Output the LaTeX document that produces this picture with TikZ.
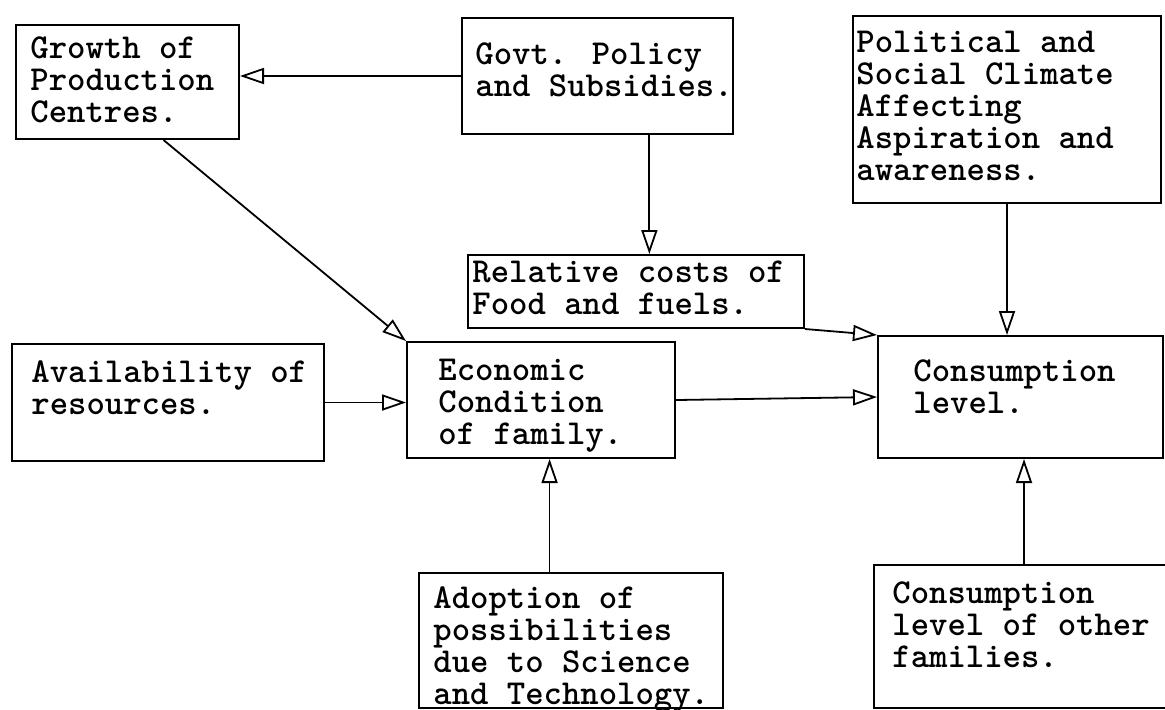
\documentclass[tikz,border=0pt]{standalone}
\usepackage{fontspec}
\usetikzlibrary{arrows.meta,calc}
\newcommand{\typed}{\ttfamily\bfseries\fontsize{17.5pt}{16pt}\selectfont}

\begin{document}
\begin{tikzpicture}[
    x=0.5pt, y=-0.5pt,
    factor/.style={draw, line width=1pt, anchor=north west, inner sep=0pt},
    note/.style={anchor=north west, inner sep=0pt, align=left, font=\typed},
    arr/.style={-{Triangle[open, length=12pt, width=8pt]}, line width=0.9pt}
  ]

  % ---- Page frame ----
  \useasboundingbox (0,0) rectangle (1165,709);

  % ---- Top row of factors ----
  \node[factor, minimum width=111.5pt, minimum height=57pt] (growth) at (15,24) {};
  \node[note] (growthtxt) at (30,36) {Growth of\\Production\\Centres.};

  \node[factor, minimum width=135.5pt, minimum height=58pt] (govt) at (461,17) {};
  \node[note] (govttxt) at (475,42) {Govt. Policy\\and Subsidies.};

  \node[factor, minimum width=154pt, minimum height=93.5pt] (polit) at (852,15) {};
  \node[note] (polittxt) at (856,31) {Political and\\Social Climate\\Affecting\\Aspiration and\\awareness.};

  % ---- Costs box ----
  \node[factor, minimum width=168pt, minimum height=36.5pt] (rel) at (467,254) {};
  \node[note] (reltxt) at (472,260) {Relative costs of\\Food and fuels.};

  % ---- Middle row ----
  \node[factor, minimum width=156pt, minimum height=58.5pt] (avail) at (11,343) {};
  \node[note] (availtxt) at (31,360) {Availability of\\resources.};

  \node[factor, minimum width=134pt, minimum height=58pt] (econ) at (406,341) {};
  \node[note] (econtxt) at (438,359) {Economic\\Condition\\of family.};

  \node[factor, minimum width=142.5pt, minimum height=61pt] (cons) at (877,335) {};
  \node[note] (constxt) at (913,359) {Consumption\\level.};

  % ---- Bottom row ----
  \node[factor, minimum width=152pt, minimum height=67.5pt] (adopt) at (418,572) {};
  \node[note] (adopttxt) at (433,586) {Adoption of\\possibilities\\due to Science\\and Technology.};

  \node[factor, minimum width=150pt, minimum height=71.5pt] (other) at (873,564) {};
  \node[note] (othertxt) at (892,581) {Consumption\\level of other\\families.};

  % ---- Arrows ----
  \draw[arr] (govt.west) -- (govt.west -| growth.east);
  \draw[arr] ($(govt.south west)!0.69!(govt.south east)$) coordinate (govtout)
    -- (govtout |- rel.north);
  \draw[arr] ($(growth.south west)!0.66!(growth.south east)$) -- (econ.north west);
  \draw[arr] (avail.east) -- (avail.east -| econ.west);
  \draw[arr] (econ.east) -- (cons.west);
  \draw[arr] (rel.south east) -- (cons.north west);
  \draw[arr] (polit.south) -- (polit.south |- cons.north);
  \draw[arr] ($(adopt.north west)!0.43!(adopt.north east)$) coordinate (adoptout)
    -- (adoptout |- econ.south);
  \draw[arr] (other.north) -- (other.north |- cons.south);

\end{tikzpicture}
\end{document}
